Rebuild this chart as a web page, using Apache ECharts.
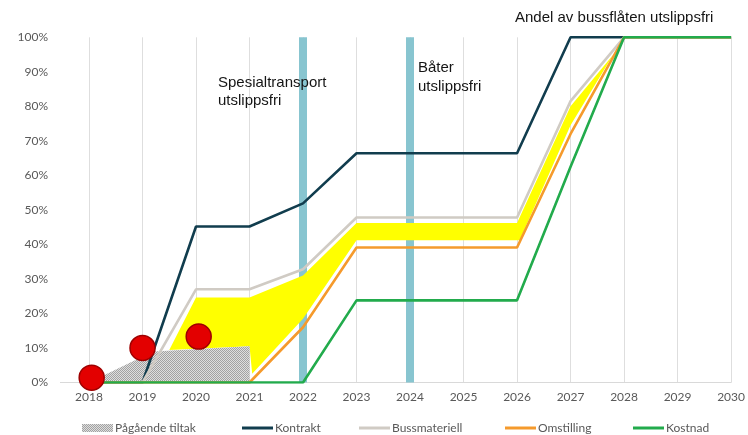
<!DOCTYPE html>
<html><head><meta charset="utf-8">
<script src="https://cdn.jsdelivr.net/npm/echarts@6/dist/echarts.min.js"></script>
<style>html,body{margin:0;padding:0;background:#fff}#c{width:748px;height:435px}</style>
</head><body><div id="c"></div>
<script>
// ---- data ----
const years = [2018,2019,2020,2021,2022,2023,2024,2025,2026,2027,2028,2029,2030];
const kontrakt      = [0,0,45.2,45.2,51.9,66.4,66.4,66.4,66.4,100,100,100,100];
const bussmateriell = [0,0,27,27,32.8,47.8,47.8,47.8,47.8,81.5,100,100,100];
const omstilling    = [0,0,0,0,16,39.1,39.1,39.1,39.1,72,100,100,100];
const kostnad       = [0,0,0,0,0,23.8,23.8,23.8,23.8,62.5,100,100,100];

const pagaendeX = [2018, 2019.2, 2021, 2021];
const pagaendeY = [0, 9, 10.5, 0];

// yellow band outline: upper edge (left->right), then lower edge (right->left)
const gulUpperX = [2019.5, 2020, 2021, 2022, 2023, 2026, 2027, 2027.8];
const gulUpperY = [9.4, 24.6, 24.6, 31, 46.2, 46.2, 80, 95];
const gulLowerX = [2027.8, 2027, 2026.05, 2023, 2022, 2021.05, 2021, 2019.5];
const gulLowerY = [95, 74.5, 41.2, 41.2, 18.5, 2.5, 10.5, 9.4];

const redX = [2018.05, 2019, 2020.05];
const redY = [1.4, 10, 13.3];

const markerYears = [2022, 2024];

const names = ['Pågående tiltak','Kontrakt','Bussmateriell','Omstilling','Kostnad'];
const annoSpes = 'Spesialtransport\nutslippsfri';
const annoBat = 'Båter\nutslippsfri';
const annoTitle = 'Andel av bussflåten utslippsfri';

// ---- build ----
const pc = document.createElement('canvas');
pc.width = 2; pc.height = 2;
const g = pc.getContext('2d');
g.fillStyle = '#dedede'; g.fillRect(0,0,2,2);
g.fillStyle = '#a2a2a2';
g.fillRect(0,0,1,1); g.fillRect(1,1,1,1);
const hatch = {image: pc, repeat: 'repeat'};

const zip = (xs, ys) => xs.map((x,i) => [x, ys[i]]);
const gulPts = zip(gulUpperX, gulUpperY).concat(zip(gulLowerX, gulLowerY));

const colors = {Kontrakt:'#113d4e', Bussmateriell:'#d0cbc4', Omstilling:'#f59a2c', Kostnad:'#22ab4c'};

function lineSeries(name, vals, z) {
  return {type:'line', name, data: zip(years, vals), symbol:'none', z,
    lineStyle:{color: colors[name], width: 2.6}, itemStyle:{color: colors[name]}, silent:true, animation:false};
}

const legendLefts = [82, 242, 359, 505, 633];
const legends = names.map((n, i) => ({
  data: [i === 0 ? {name:n, icon:'rect', itemStyle:{color: hatch}}
                 : {name:n, icon:'rect', itemStyle:{color: colors[n]}}],
  left: legendLefts[i], top: 420, padding: 0, itemWidth: 31, itemHeight: i === 0 ? 8 : 3, itemGap: 0,
  selectedMode: false,
  textStyle: {color:'#595959', fontSize: 12, fontFamily: 'Lato', padding:[0,0,0,-3], lineHeight: 16}
}));

const chart = echarts.init(document.getElementById('c'), null, {renderer:'canvas'});
chart.setOption({
  animation: false,
  grid: {left: 89, right: 15, top: 37.3, bottom: 52.5, containLabel: false},
  xAxis: {type:'value', min: 2018, max: 2030, interval: 1,
    axisLabel: {formatter: v => String(v), color:'#595959', fontSize: 12, fontFamily:'Lato', margin: 9},
    axisLine: {show: true, lineStyle: {color:'#d9d9d9', width: 1}},
    axisTick: {show: false},
    splitLine: {show: true, lineStyle: {color:'#dedede', width: 1}}
  },
  yAxis: {type:'value', min: 0, max: 100, interval: 10,
    axisLabel: {formatter: '{value}%', color:'#595959', fontSize: 12, fontFamily:'Lato', margin: 41},
    axisLine: {show: false}, axisTick: {show: false}, splitLine: {show: false}
  },
  legend: legends,
  series: [
    {type:'line', name:'markers', data: [], z: 1, silent: true,
      markLine: {symbol:'none', silent:true, z: 1, label:{show:false}, animation:false,
        lineStyle:{color:'#88c5d0', width: 8, type:'solid', opacity: 1},
        emphasis:{disabled:true},
        data: markerYears.map(x => ({xAxis: x}))}},
    {type:'custom', name:'gul', data: [[2018, 0]], z: 2, silent: true,
      renderItem: (p, api) => ({type:'polygon', shape:{points: gulPts.map(pt => api.coord(pt))}, style:{fill:'#ffff00'}})},
    {type:'line', name:'Pågående tiltak', data: zip(pagaendeX, pagaendeY), symbol:'none', z: 2, silent:true,
      lineStyle:{width: 0}, itemStyle:{color: hatch}, areaStyle:{color: hatch, opacity: 1}},
    lineSeries('Kontrakt', kontrakt, 3),
    lineSeries('Bussmateriell', bussmateriell, 3),
    lineSeries('Omstilling', omstilling, 3),
    lineSeries('Kostnad', kostnad, 3),
    {type:'scatter', name:'punkter', data: zip(redX, redY), symbolSize: 25, z: 5, silent: true,
      itemStyle:{color:'#e30000', borderColor:'#9e0000', borderWidth: 1.5, opacity: 1}}
  ],
  graphic: [
    {type:'text', left: 218, top: 74, z: 10, style:{text: annoSpes, font:'15px "Liberation Sans"', fill:'#151515', lineHeight: 18}},
    {type:'text', left: 418, top: 58, z: 10, style:{text: annoBat, font:'15px "Liberation Sans"', fill:'#151515', lineHeight: 19}},
    {type:'text', left: 515, top: 10, z: 10, style:{text: annoTitle, font:'15px "Liberation Sans"', fill:'#151515'}},
    {type:'line', z: 0, shape:{x1: 60, y1: 382.5, x2: 89, y2: 382.5}, style:{stroke:'#d9d9d9', lineWidth: 1}}
  ]
});
</script>
</body></html>
